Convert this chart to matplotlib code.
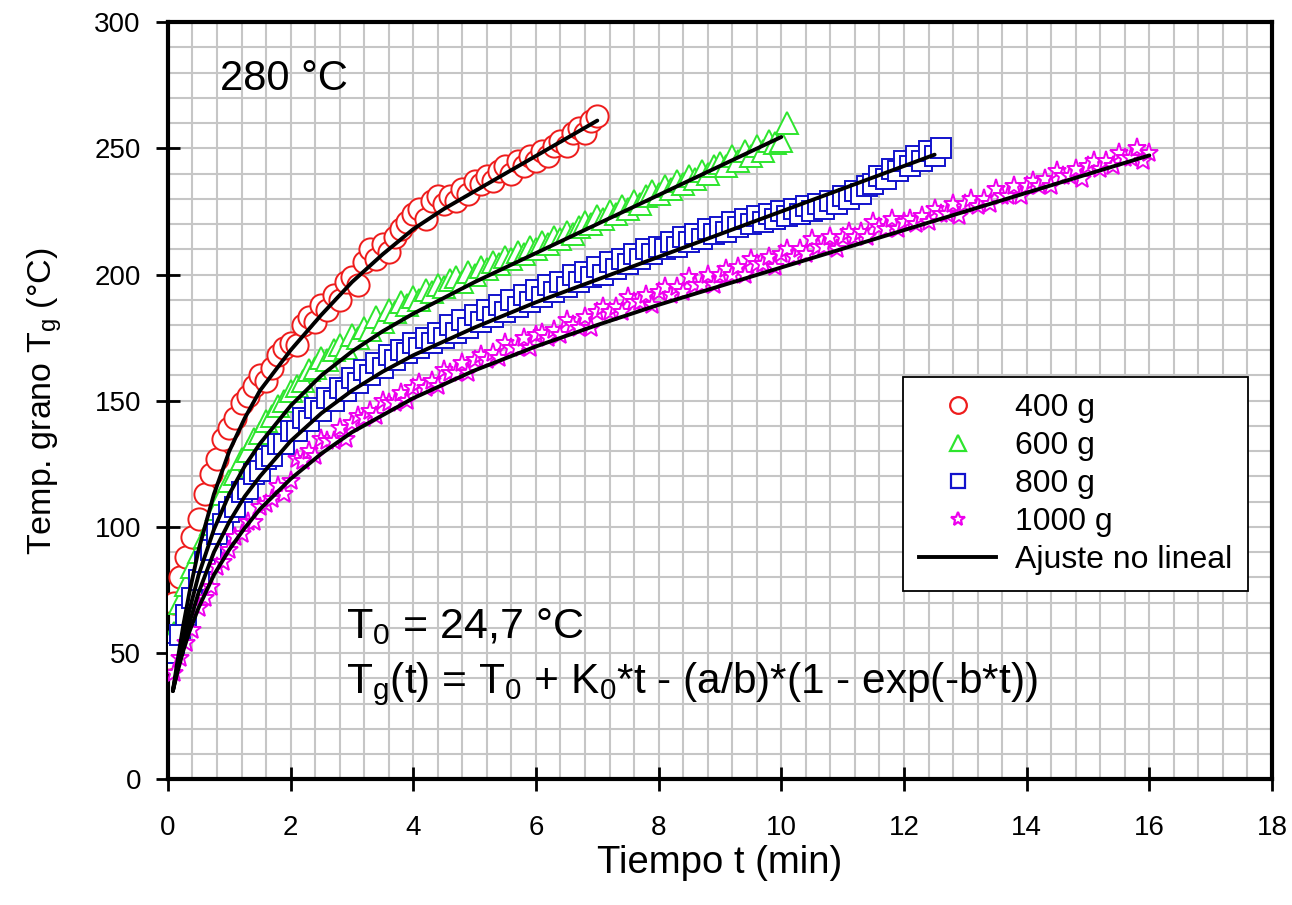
import matplotlib
matplotlib.use("Agg")
import matplotlib.pyplot as plt
from matplotlib.lines import Line2D
from matplotlib.ticker import MultipleLocator

plt.rcParams['font.family'] = ['Liberation Sans', 'DejaVu Sans']
plt.rcParams['mathtext.fontset'] = 'custom'
plt.rcParams['mathtext.rm'] = 'Liberation Sans'

# --- datos medidos (tiempo en min, temperatura del grano en °C) ---
t_400 = [0.0, 0.1, 0.2, 0.3, 0.4, 0.5, 0.6, 0.7, 0.8, 0.9,
         1.0, 1.1, 1.2, 1.3, 1.4, 1.5, 1.6, 1.7, 1.8, 1.9,
         2.0, 2.1, 2.2, 2.3, 2.4, 2.5, 2.6, 2.7, 2.8, 2.9,
         3.0, 3.1, 3.2, 3.3, 3.4, 3.5, 3.6, 3.7, 3.8, 3.9,
         4.0, 4.1, 4.2, 4.3, 4.4, 4.5, 4.6, 4.7, 4.8, 4.9,
         5.0, 5.1, 5.2, 5.3, 5.4, 5.5, 5.6, 5.7, 5.8, 5.9,
         6.0, 6.1, 6.2, 6.3, 6.4, 6.5, 6.6, 6.7, 6.8, 6.9,
         7.0]
T_400 = [48, 70, 80, 88, 96, 103, 113, 121, 127, 135,
         139, 143, 149, 152, 156, 160, 158, 163, 168, 171,
         173, 172, 180, 183, 181, 188, 186, 192, 190, 197,
         199, 196, 205, 210, 206, 212, 209, 215, 218, 221,
         224, 226, 222, 229, 231, 228, 231, 229, 234, 232,
         237, 236, 239, 237, 241, 243, 240, 245, 243, 247,
         245, 249, 247, 251, 253, 251, 256, 258, 256, 261,
         263]

t_600 = [0.1, 0.2, 0.3, 0.4, 0.5, 0.6, 0.7, 0.8, 0.9, 1.0,
         1.1, 1.2, 1.3, 1.4, 1.5, 1.6, 1.7, 1.8, 1.9, 2.0,
         2.1, 2.2, 2.3, 2.4, 2.5, 2.6, 2.7, 2.8, 2.9, 3.0,
         3.1, 3.2, 3.3, 3.4, 3.5, 3.6, 3.7, 3.8, 3.9, 4.0,
         4.1, 4.2, 4.3, 4.4, 4.5, 4.6, 4.7, 4.8, 4.9, 5.0,
         5.1, 5.2, 5.3, 5.4, 5.5, 5.6, 5.7, 5.8, 5.9, 6.0,
         6.1, 6.2, 6.3, 6.4, 6.5, 6.6, 6.7, 6.8, 6.9, 7.0,
         7.1, 7.2, 7.3, 7.4, 7.5, 7.6, 7.7, 7.8, 7.9, 8.0,
         8.1, 8.2, 8.3, 8.4, 8.5, 8.6, 8.7, 8.8, 8.9, 9.0,
         9.1, 9.2, 9.3, 9.4, 9.5, 9.6, 9.7, 9.8, 9.9, 10.0,
         10.1]
T_600 = [58, 70, 77, 84, 90, 96, 101, 107, 113, 118,
         121, 127, 130, 135, 137, 142, 144, 148, 150, 154,
         156, 158, 162, 163, 167, 166, 170, 172, 171, 176,
         175, 179, 178, 183, 181, 186, 185, 189, 188, 191,
         190, 194, 193, 196, 195, 198, 199, 197, 201, 200,
         203, 202, 205, 204, 207, 206, 209, 208, 211, 210,
         213, 212, 215, 214, 217, 216, 219, 221, 220, 223,
         222, 225, 224, 227, 226, 229, 228, 231, 233, 232,
         235, 234, 237, 236, 239, 238, 241, 240, 243, 244,
         243, 247, 245, 249, 247, 251, 249, 253, 252, 253,
         260]

t_800 = [0.1, 0.2, 0.3, 0.4, 0.5, 0.6, 0.7, 0.8, 0.9, 1.0,
         1.1, 1.2, 1.3, 1.4, 1.5, 1.6, 1.7, 1.8, 1.9, 2.0,
         2.1, 2.2, 2.3, 2.4, 2.5, 2.6, 2.7, 2.8, 2.9, 3.0,
         3.1, 3.2, 3.3, 3.4, 3.5, 3.6, 3.7, 3.8, 3.9, 4.0,
         4.1, 4.2, 4.3, 4.4, 4.5, 4.6, 4.7, 4.8, 4.9, 5.0,
         5.1, 5.2, 5.3, 5.4, 5.5, 5.6, 5.7, 5.8, 5.9, 6.0,
         6.1, 6.2, 6.3, 6.4, 6.5, 6.6, 6.7, 6.8, 6.9, 7.0,
         7.1, 7.2, 7.3, 7.4, 7.5, 7.6, 7.7, 7.8, 7.9, 8.0,
         8.1, 8.2, 8.3, 8.4, 8.5, 8.6, 8.7, 8.8, 8.9, 9.0,
         9.1, 9.2, 9.3, 9.4, 9.5, 9.6, 9.7, 9.8, 9.9, 10.0,
         10.1, 10.2, 10.3, 10.4, 10.5, 10.6, 10.7, 10.8, 10.9, 11.0,
         11.1, 11.2, 11.3, 11.4, 11.5, 11.6, 11.7, 11.8, 11.9, 12.0,
         12.1, 12.2, 12.3, 12.4, 12.5, 12.6]
T_800 = [50, 57, 65, 72, 79, 86, 91, 97, 101, 106,
         108, 114, 115, 121, 122, 127, 128, 133, 133, 138,
         138, 143, 142, 147, 146, 151, 150, 155, 154, 159,
         157, 162, 160, 165, 163, 168, 166, 170, 169, 173,
         171, 175, 173, 177, 175, 180, 177, 182, 179, 184,
         181, 186, 183, 188, 185, 190, 187, 192, 189, 194,
         191, 196, 193, 197, 195, 200, 197, 201, 199, 203,
         200, 205, 202, 206, 204, 208, 206, 210, 208, 211,
         210, 213, 211, 215, 213, 216, 214, 218, 216, 219,
         217, 221, 219, 222, 220, 223, 221, 224, 222, 225,
         223, 226, 224, 227, 225, 228, 226, 229, 228, 231,
         230, 233, 232, 235, 236, 239, 238, 242, 241, 245,
         243, 247, 245, 249, 247, 250]

t_1000 = [0.1, 0.2, 0.3, 0.4, 0.5, 0.6, 0.7, 0.8, 0.9, 1.0,
          1.1, 1.2, 1.3, 1.4, 1.5, 1.6, 1.7, 1.8, 1.9, 2.0,
          2.1, 2.2, 2.3, 2.4, 2.5, 2.6, 2.7, 2.8, 2.9, 3.0,
          3.1, 3.2, 3.3, 3.4, 3.5, 3.6, 3.7, 3.8, 3.9, 4.0,
          4.1, 4.2, 4.3, 4.4, 4.5, 4.6, 4.7, 4.8, 4.9, 5.0,
          5.1, 5.2, 5.3, 5.4, 5.5, 5.6, 5.7, 5.8, 5.9, 6.0,
          6.1, 6.2, 6.3, 6.4, 6.5, 6.6, 6.7, 6.8, 6.9, 7.0,
          7.1, 7.2, 7.3, 7.4, 7.5, 7.6, 7.7, 7.8, 7.9, 8.0,
          8.1, 8.2, 8.3, 8.4, 8.5, 8.6, 8.7, 8.8, 8.9, 9.0,
          9.1, 9.2, 9.3, 9.4, 9.5, 9.6, 9.7, 9.8, 9.9, 10.0,
          10.1, 10.2, 10.3, 10.4, 10.5, 10.6, 10.7, 10.8, 10.9, 11.0,
          11.1, 11.2, 11.3, 11.4, 11.5, 11.6, 11.7, 11.8, 11.9, 12.0,
          12.1, 12.2, 12.3, 12.4, 12.5, 12.6, 12.7, 12.8, 12.9, 13.0,
          13.1, 13.2, 13.3, 13.4, 13.5, 13.6, 13.7, 13.8, 13.9, 14.0,
          14.1, 14.2, 14.3, 14.4, 14.5, 14.6, 14.7, 14.8, 14.9, 15.0,
          15.1, 15.2, 15.3, 15.4, 15.5, 15.6, 15.7, 15.8, 15.9, 16.0]
T_1000 = [42, 48, 54, 59, 68, 72, 76, 84, 86, 91,
          96, 97, 102, 102, 108, 109, 111, 116, 113, 118,
          127, 126, 130, 128, 135, 134, 134, 139, 135, 141,
          144, 143, 146, 144, 150, 149, 149, 153, 150, 155,
          157, 155, 158, 156, 162, 161, 161, 165, 161, 166,
          168, 166, 169, 167, 173, 171, 171, 175, 171, 176,
          177, 175, 178, 176, 182, 180, 179, 183, 179, 185,
          187, 185, 187, 185, 191, 189, 189, 192, 188, 193,
          195, 192, 195, 193, 199, 196, 196, 200, 196, 200,
          202, 200, 203, 200, 206, 204, 204, 207, 203, 208,
          210, 207, 210, 208, 214, 211, 211, 215, 210, 215,
          217, 215, 217, 215, 221, 219, 218, 222, 218, 221,
          222, 220, 223, 221, 226, 224, 224, 228, 223, 228,
          230, 227, 230, 228, 234, 231, 231, 235, 231, 235,
          237, 235, 238, 235, 241, 239, 239, 242, 238, 243,
          245, 242, 245, 243, 248, 246, 246, 250, 245, 248]

# curvas del ajuste no lineal
fit_t_400 = [0.08, 0.15, 0.25, 0.35, 0.5, 0.75, 1.0, 1.25, 1.5, 2.0,
             2.5, 3.0, 3.5, 4.0, 4.5, 5.0, 5.5, 6.0, 6.5, 7.0]
fit_T_400 = [35, 46, 61, 74, 91, 113, 130, 143, 154, 170,
             184, 197, 208, 218, 226, 233, 240, 247, 254, 261]
fit_t_600 = [0.08, 0.15, 0.25, 0.35, 0.5, 0.75, 1.0, 1.25, 1.5, 2.0,
             2.5, 3.0, 3.5, 4.0, 5.0, 6.0, 7.0, 8.0, 9.0, 10.0]
fit_T_600 = [35, 44, 56, 67, 81, 99, 113, 124, 133, 148,
             160, 169.5, 177.5, 184.5, 197, 208.5, 220, 231.5, 243, 254.5]
fit_t_800 = [0.08, 0.15, 0.25, 0.35, 0.5, 0.75, 1.0, 1.25, 1.5, 2.0,
             2.5, 3.0, 3.5, 4.0, 5.0, 6.0, 7.0, 8.0, 9.0, 10.0,
             11.0, 12.0, 12.5]
fit_T_800 = [35, 43, 53, 62, 74, 90, 102, 112, 120, 134,
             145, 154, 161.5, 168, 179, 189, 198, 207, 216, 225,
             234, 243, 247.5]
fit_t_1000 = [0.08, 0.15, 0.25, 0.35, 0.5, 0.75, 1.0, 1.25, 1.5, 2.0,
              2.5, 3.0, 4.0, 5.0, 6.0, 7.0, 8.0, 10.0, 12.0, 14.0, 16.0]
fit_T_1000 = [35, 42, 51, 58.5, 68, 81, 91, 99.5, 107, 119,
              129, 137.5, 151, 162, 171.5, 180, 188, 202.8, 217.6, 232.4, 247.2]

labels = ['400 g', '600 g', '800 g', '1000 g']
colors = ['#ee1c1c', '#2ee52e', '#1212cc', '#ee00ee']
markers = ['o', '^', 's', '*']
sizes = [16, 16, 14, 14]

fig = plt.figure(figsize=(12.92, 9.05), dpi=100)
ax = fig.add_axes([0.130, 0.139, 0.8545, 0.8365])

series = [(t_400, T_400), (t_600, T_600), (t_800, T_800), (t_1000, T_1000)]
for (t, T), c, m, s in zip(series, colors, markers, sizes):
    ax.plot(t, T, linestyle='none', marker=m, ms=s, mfc='white', mec=c, mew=1.4, zorder=3)

fits = [(fit_t_400, fit_T_400), (fit_t_600, fit_T_600),
        (fit_t_800, fit_T_800), (fit_t_1000, fit_T_1000)]
for ft, fT in fits:
    ax.plot(ft, fT, color='black', lw=2.8, solid_capstyle='round', zorder=5)

ax.set_xlim(0, 18)
ax.set_ylim(0, 300)
ax.set_xticks(range(0, 19, 2))
ax.set_yticks(range(0, 301, 50))
ax.xaxis.set_minor_locator(MultipleLocator(0.4))
ax.yaxis.set_minor_locator(MultipleLocator(10))
ax.grid(which='both', color='#c6c6c6', lw=1.5)
ax.set_axisbelow(True)
for sp in ax.spines.values():
    sp.set_linewidth(3)
ax.tick_params(which='major', direction='inout', length=17, width=2, labelsize=20)
ax.tick_params(axis='x', which='major', pad=17)
ax.tick_params(axis='y', which='major', pad=11)
ax.tick_params(which='minor', length=0)

ax.set_xlabel('Tiempo t (min)', fontsize=27.5, labelpad=3)
ax.set_ylabel('Temp. grano T$_\\mathregular{g}$ (°C)', fontsize=24.5, labelpad=22)

ax.text(0.85, 273, '280 °C', fontsize=30)
ax.text(2.9, 56, 'T$_\\mathregular{0}$ = 24,7 °C', fontsize=31)
ax.text(2.9, 34, 'T$_\\mathregular{g}$(t) = T$_\\mathregular{0}$ + K$_\\mathregular{0}$*t - (a/b)*(1 - exp(-b*t))',
        fontsize=30.5)

handles = [Line2D([], [], linestyle='none', marker=m, ms=s * 0.75, mfc='white', mec=c, mew=1.6)
           for c, m, s in zip(colors, markers, sizes)]
handles.append(Line2D([], [], color='black', lw=2.8))
leg = ax.legend(handles, labels + ['Ajuste no lineal'], loc='upper left',
                bbox_to_anchor=(0.666, 0.531), fontsize=23, frameon=True, fancybox=False,
                edgecolor='black', framealpha=1, borderpad=0.5, labelspacing=0.25,
                handlelength=2.4, handletextpad=0.6, borderaxespad=0)
leg.get_frame().set_linewidth(1.3)
leg.set_zorder(10)

fig.savefig('out.png', dpi=100)
